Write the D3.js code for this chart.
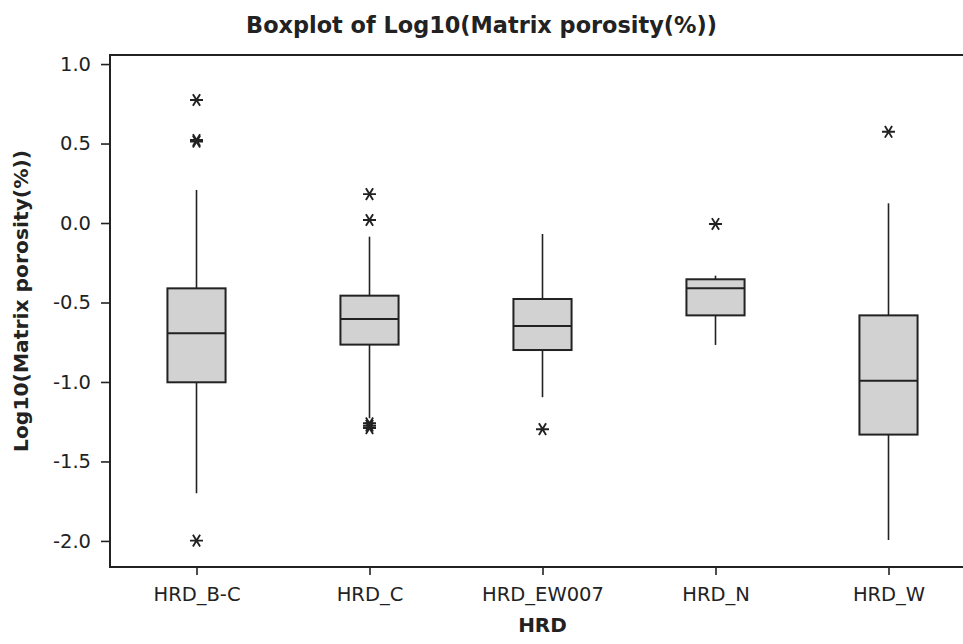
<!DOCTYPE html>
<html><head><meta charset="utf-8">
<script src="https://cdn.jsdelivr.net/npm/d3@7"></script>
<style>body{margin:0;background:#fff}svg{display:block}</style>
</head><body><svg id="c" width="963" height="644"></svg>
<script>
const categories = ["HRD_B-C", "HRD_C", "HRD_EW007", "HRD_N", "HRD_W"];
const q1          = [-1.002, -0.765, -0.799, -0.581, -1.331];
const median      = [-0.694, -0.604, -0.648, -0.411, -0.992];
const q3          = [-0.411, -0.457, -0.478, -0.354, -0.581];
const whiskerLow  = [-1.700, -1.228, -1.096, -0.767, -1.994];
const whiskerHigh = [0.208, -0.086, -0.069, -0.331, 0.124];
const outliers = [
  [0.774, 0.522, 0.512, -1.998],
  [0.182, 0.019, -1.260, -1.275, -1.290],
  [-1.297],
  [-0.006],
  [0.574]
];
const yTicks = [1.0, 0.5, 0.0, -0.5, -1.0, -1.5, -2.0];
const titleText = "Boxplot of Log10(Matrix porosity(%))";
const xTitle = "HRD";
const yTitle = "Log10(Matrix porosity(%))";

const W = 963, H = 644;
const m = {left: 110, top: 55, right: 975, bottom: 567};
const ink = "#222";
const svg = d3.select("#c");

const x = d3.scalePoint().domain(categories).range([m.left, m.right]).padding(0.5);
const y = d3.scaleLinear().domain([-2.164, 1.057]).range([m.bottom, m.top]);
const boxW = x.step() * 0.336;

// frame
svg.append("rect").attr("x", m.left).attr("y", m.top)
  .attr("width", m.right - m.left).attr("height", m.bottom - m.top)
  .attr("fill", "none").attr("stroke", ink).attr("stroke-width", 2);

// y axis
const yAxis = d3.axisLeft(y).tickValues(yTicks).tickSize(9).tickPadding(10)
  .tickFormat(d => d.toFixed(1));
const gy = svg.append("g").attr("transform", `translate(${m.left},0)`).call(yAxis);
gy.select(".domain").remove();
gy.selectAll(".tick line").attr("stroke", ink).attr("stroke-width", 1.6);
gy.selectAll(".tick text").attr("fill", "#222").attr("font-family", "DejaVu Sans")
  .attr("font-size", 19.5);

// x axis
const xAxis = d3.axisBottom(x).tickSize(8).tickPadding(12);
const gx = svg.append("g").attr("transform", `translate(0,${m.bottom})`).call(xAxis);
gx.select(".domain").remove();
gx.selectAll(".tick line").attr("stroke", ink).attr("stroke-width", 1.6);
gx.selectAll(".tick text").attr("fill", "#222").attr("font-family", "DejaVu Sans")
  .attr("font-size", 19.5);

// boxes
const data = categories.map((c, i) => ({c, q1: q1[i], med: median[i], q3: q3[i],
  lo: whiskerLow[i], hi: whiskerHigh[i], out: outliers[i]}));
const g = svg.append("g");
const b = g.selectAll("g.box").data(data).join("g").attr("class", "box");
b.append("line").attr("x1", d => x(d.c)).attr("x2", d => x(d.c))
  .attr("y1", d => y(d.q3)).attr("y2", d => y(d.hi)).attr("stroke", ink).attr("stroke-width", 1.6);
b.append("line").attr("x1", d => x(d.c)).attr("x2", d => x(d.c))
  .attr("y1", d => y(d.q1)).attr("y2", d => y(d.lo)).attr("stroke", ink).attr("stroke-width", 1.6);
b.append("rect").attr("x", d => x(d.c) - boxW / 2).attr("width", boxW)
  .attr("y", d => y(d.q3)).attr("height", d => y(d.q1) - y(d.q3))
  .attr("fill", "#d2d2d2").attr("stroke", ink).attr("stroke-width", 2);
b.append("line").attr("x1", d => x(d.c) - boxW / 2).attr("x2", d => x(d.c) + boxW / 2)
  .attr("y1", d => y(d.med)).attr("y2", d => y(d.med)).attr("stroke", ink).attr("stroke-width", 2);

// outlier asterisks
const r = 6.5;
const ast = `M${-r},0L${r},0M${-r*0.55},${-r*0.9}L${r*0.55},${r*0.9}M${-r*0.55},${r*0.9}L${r*0.55},${-r*0.9}`;
b.each(function(d) {
  d3.select(this).selectAll("path.out").data(d.out).join("path").attr("class", "out")
    .attr("transform", v => `translate(${x(d.c)},${y(v)})`)
    .attr("d", ast).attr("fill", "none").attr("stroke", ink).attr("stroke-width", 1.9);
});

// titles
svg.append("text").attr("x", W / 2).attr("y", 33).attr("text-anchor", "middle")
  .attr("font-family", "DejaVu Sans").attr("font-weight", "bold").attr("font-size", 22.4)
  .attr("fill", "#222").text(titleText);
svg.append("text").attr("x", x(categories[2])).attr("y", 632)
  .attr("text-anchor", "middle")
  .attr("font-family", "DejaVu Sans").attr("font-weight", "bold").attr("font-size", 20)
  .attr("fill", "#222").text(xTitle);
svg.append("text").attr("transform", "translate(28,301) rotate(-90)").attr("text-anchor", "middle")
  .attr("font-family", "DejaVu Sans").attr("font-weight", "bold").attr("font-size", 20.3)
  .attr("fill", "#222").text(yTitle);
</script>
</body></html>
